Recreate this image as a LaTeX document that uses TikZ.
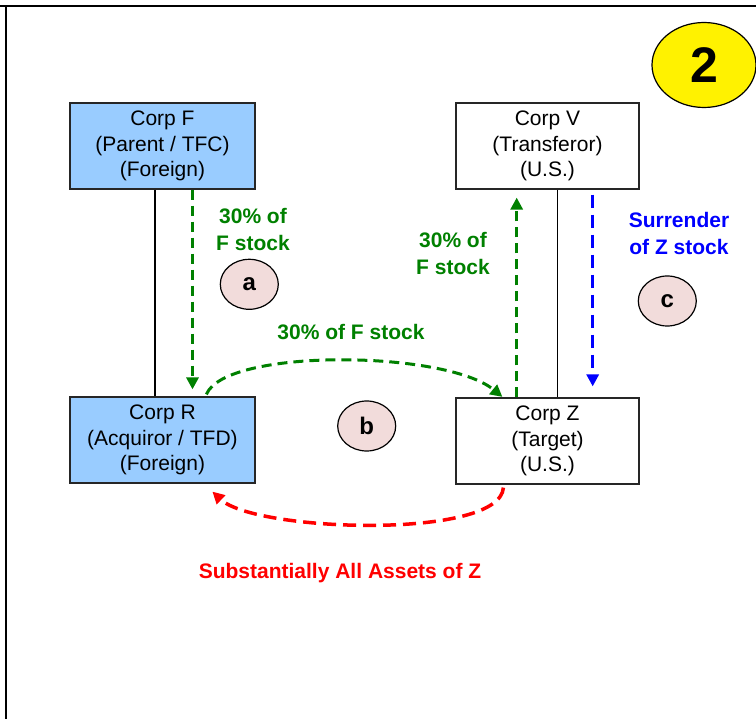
\documentclass[tikz,border=0pt]{standalone}
\usepackage{fontspec}
\setmainfont{Liberation Sans}
\usetikzlibrary{arrows.meta,shapes.geometric,calc}
\definecolor{boxblue}{RGB}{153,204,255}
\definecolor{pinkfill}{RGB}{242,220,219}
\definecolor{dgreen}{RGB}{0,128,0}
\begin{document}
\begin{tikzpicture}[x=1pt,y=-1pt,
  corpbox/.style={draw=black!85, line width=1.2pt, minimum width=185pt, minimum height=86pt,
    inner sep=0pt, align=center, font=\fontsize{21}{25.5}\selectfont},
  tagell/.style={ellipse, draw=black, line width=1.2pt, fill=pinkfill, minimum width=58pt,
    minimum height=50pt, inner sep=0pt, font=\fontsize{24}{26}\selectfont\bfseries},
  lbl/.style={align=center, inner sep=0pt, font=\fontsize{21}{27}\selectfont\bfseries},
  flow/.style={line width=3pt, dash pattern=on 10pt off 6pt, -{Triangle[length=12pt,width=12pt]}},
  tie/.style={line width=1.2pt, black},
]
\useasboundingbox (0,0) rectangle (756,719);
% frame
\draw[line width=2pt] (0,6.5) -- (756,6.5);
\draw[line width=2pt] (5.7,6.5) -- (5.7,719);

% number badge
\node[ellipse, draw=black, line width=1.2pt, fill=yellow, minimum width=104pt, minimum height=85pt,
  inner sep=0pt, font=\fontsize{50}{50}\selectfont\bfseries] (num) at (704,65) {\raisebox{-8pt}{2}};

% boxes
\node[corpbox, fill=boxblue] (F) at (162.5,146) {Corp F\\(Parent / TFC)\\(Foreign)};
\node[corpbox, fill=white, minimum width=183pt] (V) at (547.5,146) {Corp V\\(Transferor)\\(U.S.)};
\node[corpbox, fill=boxblue] (R) at (162.5,440) {Corp R\\(Acquiror / TFD)\\(Foreign)};
\node[corpbox, fill=white, minimum width=183pt] (Z) at (547.5,441) {Corp Z\\(Target)\\(U.S.)};

% ownership lines
\coordinate (lx1) at (155,0);
\coordinate (lx2) at (557.7,0);
\draw[tie] (F.south -| lx1) -- (R.north -| lx1);
\draw[tie] (V.south -| lx2) -- (Z.north -| lx2);

% step tags
\node[tagell] (ta) at (249.3,284.3) {a};
\node[tagell] (tb) at (366.7,426) {b};
\node[tagell] (tc) at (667.3,301) {c};

% flows
\coordinate (ax) at (192.5,0);
\coordinate (ux) at (516.7,0);
\coordinate (bx) at (592.7,0);
\draw[flow, dgreen] (F.south -| ax) -- ($(R.north -| ax)+(0,-7)$);
\draw[flow, dgreen] (Z.north -| ux) -- ($(V.south -| ux)+(0,8)$);
\draw[flow, blue, line width=3.2pt, dash pattern=on 13pt off 7pt]
  ($(V.south -| bx)+(0,5)$) -- ($(Z.north -| bx)+(0,-11)$);

\coordinate (gs) at ($(R.north west)+(137,-2)$);
\coordinate (ge) at ($(Z.north west)+(47,-0.5)$);
\draw[flow, dgreen] (gs) .. controls (225,348) and (445,350) .. (ge);

\coordinate (rs) at ($(Z.south west)+(48,3)$);
\coordinate (re) at ($(R.south west)+(143,8)$);
\draw[flow, red, line width=3.5pt, dash pattern=on 13pt off 7pt] (rs) .. controls (500,540) and (255,532) .. (re);

% labels
\node[lbl, text=dgreen] (la) at (253,229) {30\% of\\F stock};
\node[lbl, text=dgreen] (lu) at (453,253) {30\% of\\F stock};
\node[lbl, text=dgreen] (lb) at (351,332) {30\% of F stock};
\node[lbl, text=blue] (ls) at (679,233) {Surrender\\of Z stock};
\node[lbl, text=red] (lr) at (340,573) {Substantially All Assets of Z};
\end{tikzpicture}
\end{document}
